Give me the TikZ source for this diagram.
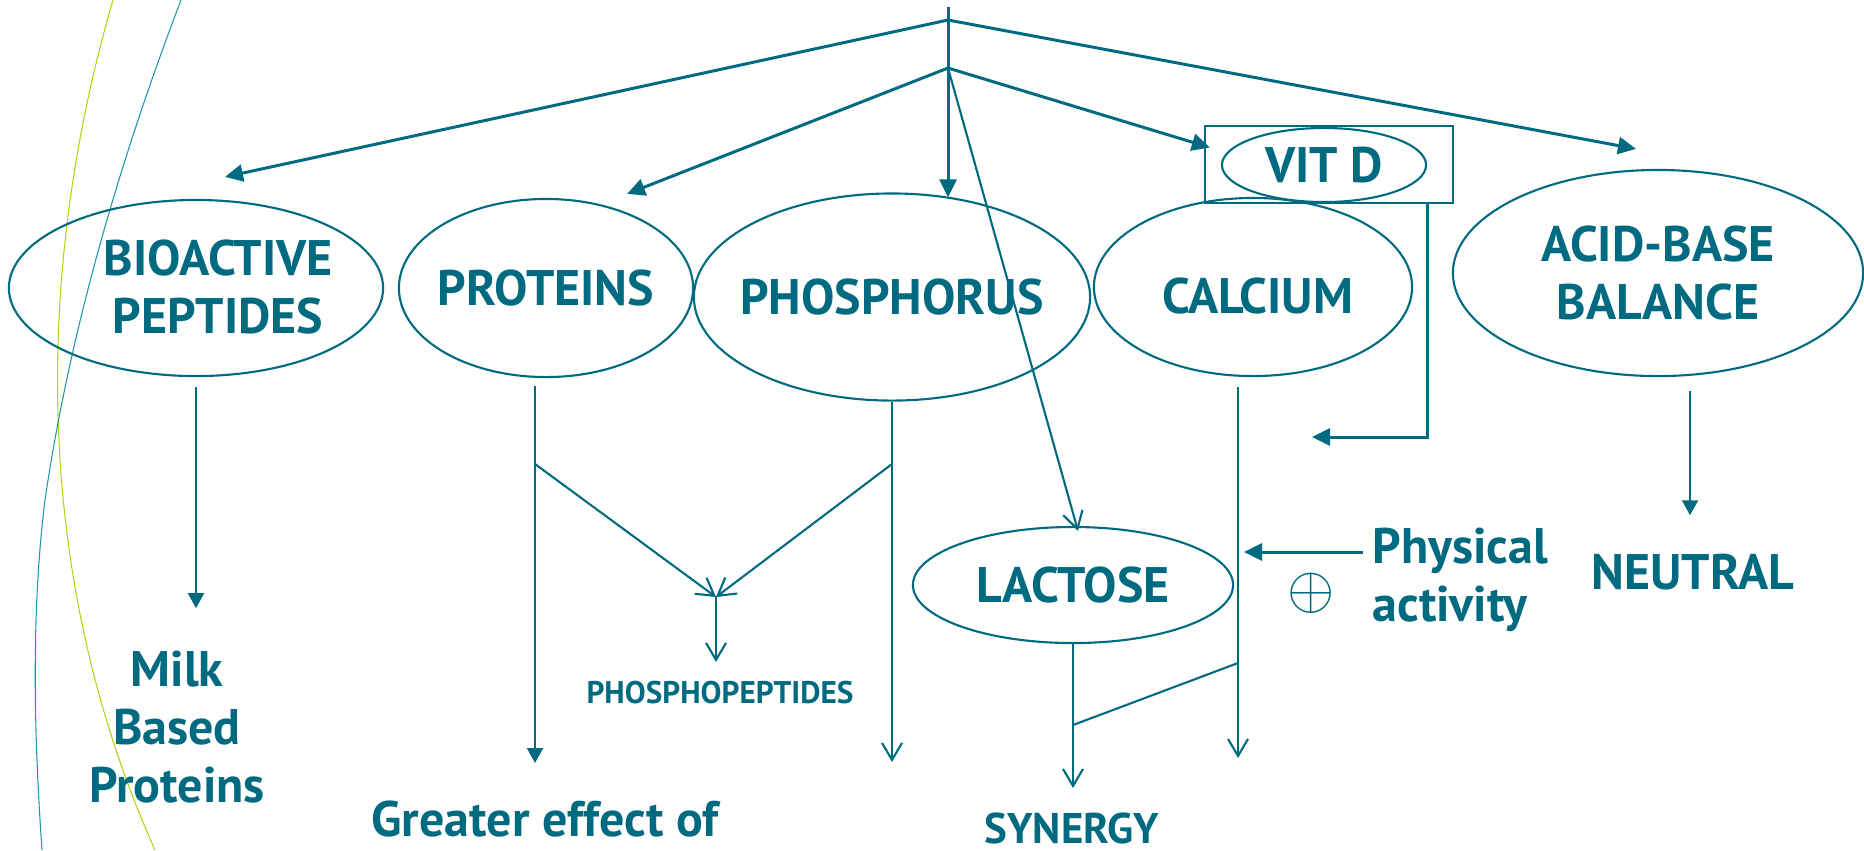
\documentclass[tikz,border=0pt]{standalone}
\usepackage{fontspec}
\setmainfont{PT Sans}
\usepackage{tikz}
\usetikzlibrary{shapes.geometric, arrows.meta, positioning, calc}
\definecolor{myteal}{RGB}{0,106,128}
\definecolor{mylime}{RGB}{175,212,20}
\definecolor{mysea}{RGB}{30,150,170}
\newcommand{\bigtxtfont}{\fontsize{14.2}{16.5}\selectfont\bfseries}
\tikzset{
  oval/.style={ellipse, draw=myteal, line width=0.6pt, text=myteal,
    font=\bigtxtfont, align=center, inner sep=0pt, inner xsep=-0.2cm},
  bigtxt/.style={text=myteal, font=\bigtxtfont, align=center, inner sep=0pt},
  arrow/.style={-{Triangle[length=0.18cm, width=0.17cm]}, line width=0.85pt, color=myteal},
  thinarrow/.style={-{Triangle[length=0.15cm, width=0.16cm]}, line width=0.6pt, color=myteal},
  openarrow/.style={-{Straight Barb[length=0.17cm, width=0.2cm]}, line width=0.6pt, color=myteal},
  line/.style={line width=0.6pt, color=myteal},
  swoosh/.style={line width=0.3pt}
}

\begin{document}
\begin{tikzpicture}[x=0.01cm, y=-0.01cm]
  \useasboundingbox (0,0) rectangle (1864,850);

  % ── Theme swooshes on the left ──────────────────────────────────────────
  \draw[swoosh, mylime] (113,0) .. controls (40,250) and (25,560) .. (155,850);
  \draw[swoosh, mysea] (181,0) .. controls (120,160) and (70,330) .. (45,500)
                                .. controls (30,620) and (35,750) .. (42,850);

  % ── Ovals (top row) ─────────────────────────────────────────────────────
  \node[oval, minimum width=3.74cm, minimum height=1.76cm] (bio)  at (196,288)  {};
  \node[bigtxt] (biotxt) at ($(bio)+(22,-1)$) {BIOACTIVE\\PEPTIDES};
  \node[oval, minimum width=2.94cm, minimum height=1.78cm] (prot) at (546,288)  {PROTEINS};
  \node[oval, minimum width=3.96cm, minimum height=2.07cm] (phos) at (892,297)  {PHOSPHORUS};
  \node[oval, minimum width=3.18cm, minimum height=1.78cm] (calc) at (1253,287) {};
  \node[bigtxt] (calctxt) at ($(calc)+(5,9)$) {CALCIUM};
  \node[oval, minimum width=4.10cm, minimum height=2.06cm] (acid) at (1658,273) {ACID-BASE\\BALANCE};

  % ── Vit D in its box ────────────────────────────────────────────────────
  \node[draw=myteal, line width=0.6pt, minimum width=2.48cm, minimum height=0.77cm,
        inner sep=0pt] (vitbox) at (1329,164.5) {};
  \node[oval, minimum width=2.04cm, minimum height=0.74cm] (vitd) at (1324,165) {VIT D};

  % ── Lactose ─────────────────────────────────────────────────────────────
  \node[oval, minimum width=3.20cm, minimum height=1.16cm] (lact) at (1073,585) {LACTOSE};

  % ── Outcome texts ───────────────────────────────────────────────────────
  \node[bigtxt] (milk) at (177,727) {Milk\\Based\\Proteins};
  \node[bigtxt, anchor=base] (greater) at (545,836) {Greater effect of};
  \node[bigtxt, font=\fontsize{8.9}{10}\selectfont\bfseries] (pep) at (720,693) {PHOSPHOPEPTIDES};
  \node[bigtxt, font=\fontsize{12.2}{14}\selectfont\bfseries] (syn) at (1072,828) {SYNERGY};
  \node[bigtxt] (neutral) at (1693,572) {NEUTRAL};
  \node[bigtxt, align=left, anchor=west] (phys) at (1372,580) {Physical\\activity};
  \node[text=myteal, inner sep=0pt, font=\fontsize{18}{20}\selectfont] (plus) at (1311,593) {$\oplus$};

  % ── Hub at the top ──────────────────────────────────────────────────────
  \coordinate (top)  at (948,7);
  \coordinate (hubA) at (948,20);
  \coordinate (hubB) at (948,68);

  \draw[arrow] (top) -- ($(top |- phos.north)+(0,5)$);
  \draw[arrow] (hubA) -- ($(bio.north)+(29,-22)$);
  \draw[arrow] (hubA) -- ($(acid.north)+(-22,-20)$);
  \draw[arrow] (hubB) -- ($(prot.north)+(81,-4)$);
  \draw[arrow] (hubB) -- ($(vitbox.west)+(6,-17)$);
  \draw[openarrow] (hubB) -- ($(lact.north)+(5,5)$);

  % ── Bioactive peptides ──────────────────────────────────────────────────
  \draw[thinarrow, shorten <=0.1cm, shorten >=0.42cm] (bio.south) -- (bio.south |- milk.north);

  % ── Proteins + phosphorus → phosphopeptides ─────────────────────────────
  \coordinate (protout)   at (535,386);
  \coordinate (protsplit) at (535,464);
  \coordinate (protend)   at (535,763);
  \coordinate (phosout)   at (892,402);
  \coordinate (phossplit) at (892,464);
  \coordinate (phosend)   at (892,762);
  \coordinate (pepjoin)   at (716,597);
  \coordinate (pepend)    at (716,662);

  \draw[thinarrow] (protout) -- (protend);
  \draw[openarrow] (phosout) -- (phosend);
  \draw[openarrow] (protsplit) -- (pepjoin);
  \draw[openarrow] (phossplit) -- (pepjoin);
  \draw[openarrow] (pepjoin) -- (pepend);

  % ── Calcium, lactose → synergy ──────────────────────────────────────────
  \coordinate (calcout)   at (1238,387);
  \coordinate (calcsplit) at (1238,663);
  \coordinate (calcend)   at (1238,758);
  \coordinate (lactsplit) at (1073,725);
  \coordinate (lactend)   at (1073,788);

  \draw[openarrow] (calcout) -- (calcend);
  \draw[openarrow] (lact.south) -- (lactend);
  \draw[line] (lactsplit) -- (calcsplit);

  % ── Vit D bracket and physical activity ─────────────────────────────────
  \coordinate (vitarr)  at (1312,437);
  \coordinate (physarr) at (1244,552);
  \draw[arrow] (vitd.east |- vitbox.south) |- (vitarr);
  \draw[arrow, shorten <=0.09cm] (physarr -| phys.west) -- (physarr);

  % ── Acid-base balance ───────────────────────────────────────────────────
  \coordinate (acidout) at (1690,391);
  \draw[thinarrow, shorten >=0.38cm] (acidout) -- (acidout |- neutral.north);
\end{tikzpicture}
\end{document}
